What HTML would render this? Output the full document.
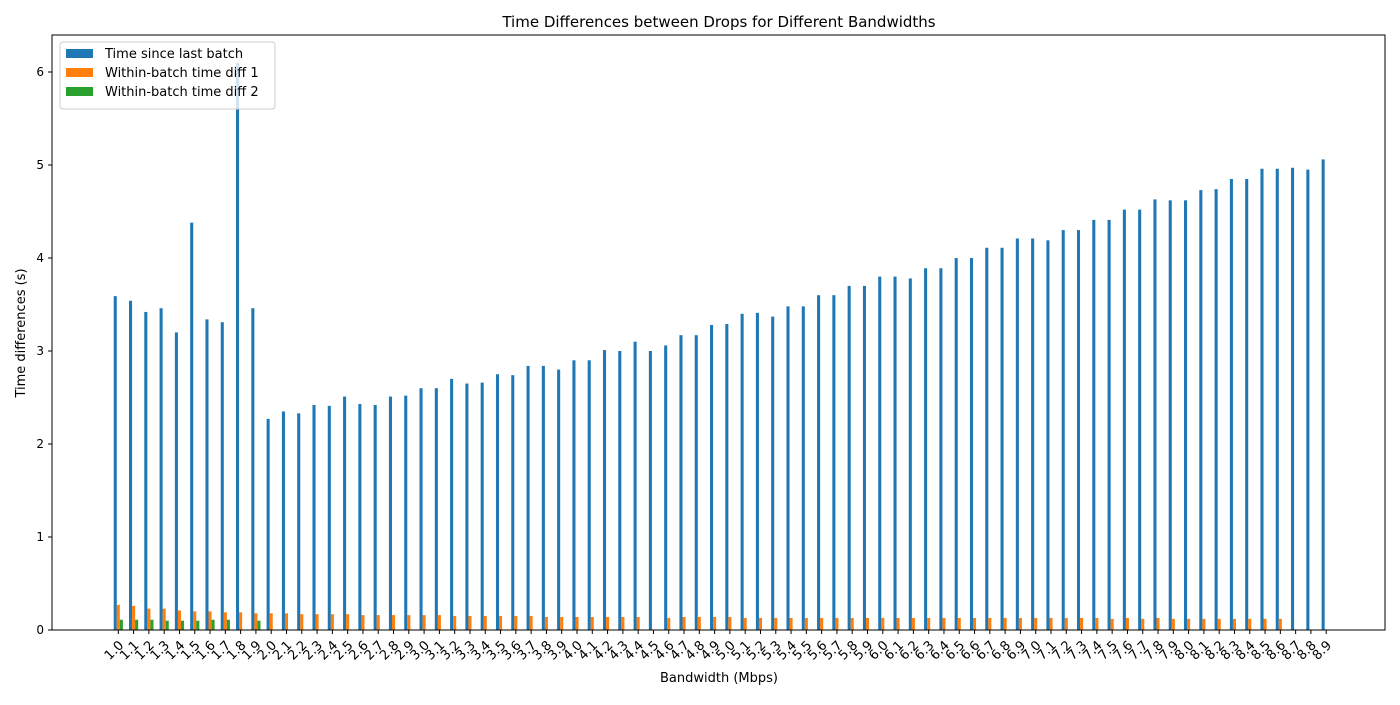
<!DOCTYPE html>
<html><head><meta charset="utf-8"><style>
body{margin:0;background:#fff;font-family:"Liberation Sans","DejaVu Sans",sans-serif}
svg text{font-family:"DejaVu Sans","Liberation Sans",sans-serif}
</style></head><body>
<svg id="chart" width="1400" height="700" xmlns="http://www.w3.org/2000/svg"></svg>
<script>
const categories=[];for(let i=10;i<=89;i++)categories.push((i/10).toFixed(1));
const sinceLast=[3.59,3.54,3.42,3.46,3.20,4.38,3.34,3.31,6.10,3.46,
2.27,2.35,2.33,2.42,2.41,2.51,2.43,2.42,2.51,2.52,
2.60,2.60,2.70,2.65,2.66,2.75,2.74,2.84,2.84,2.80,
2.90,2.90,3.01,3.00,3.10,3.00,3.06,3.17,3.17,3.28,
3.29,3.40,3.41,3.37,3.48,3.48,3.60,3.60,3.70,3.70,
3.80,3.80,3.78,3.89,3.89,4.00,4.00,4.11,4.11,4.21,
4.21,4.19,4.30,4.30,4.41,4.41,4.52,4.52,4.63,4.62,
4.62,4.73,4.74,4.85,4.85,4.96,4.96,4.97,4.95,5.06];
const diff1=[0.27,0.26,0.23,0.23,0.21,0.20,0.20,0.19,0.19,0.18,
0.18,0.18,0.17,0.17,0.17,0.17,0.16,0.16,0.16,0.16,
0.16,0.16,0.15,0.15,0.15,0.15,0.15,0.15,0.14,0.14,
0.14,0.14,0.14,0.14,0.14,0,0.13,0.14,0.14,0.14,
0.14,0.13,0.13,0.13,0.13,0.13,0.13,0.13,0.13,0.13,
0.13,0.13,0.13,0.13,0.13,0.13,0.13,0.13,0.13,0.13,
0.13,0.13,0.13,0.13,0.13,0.12,0.13,0.12,0.13,0.12,
0.12,0.12,0.12,0.12,0.12,0.12,0.12,0,0,0];
const diff2=[0.11,0.11,0.11,0.10,0.10,0.10,0.11,0.11,0,0.10];
const yTicks=[0,1,2,3,4,5,6];
const svg=document.getElementById('chart');const NS='http://www.w3.org/2000/svg';
const L=52,R=1385,T=35,B=630;
const x=i=>118.3+i*15.29;const y=v=>B-v*93;const bw=3.06;
function mk(t,a,p){const e=document.createElementNS(NS,t);for(const k in a)e.setAttribute(k,a[k]);(p||svg).appendChild(e);return e;}
const series=[[sinceLast,'#1f77b4',-1,'bar-time-since-last'],[diff1,'#ff7f0e',0,'bar-diff1'],[diff2,'#2ca02c',1,'bar-diff2']];
series.forEach(([arr,c,o,n])=>{arr.forEach((v,i)=>{if(!v)return;const r=mk('rect',{x:x(i)+o*bw-bw/2,y:y(v),width:bw,height:v*93,fill:c});

});});
mk('rect',{x:L,y:T,width:R-L,height:B-T,fill:'none',stroke:'#000','stroke-width':1,});
yTicks.forEach(v=>{mk('line',{x1:L-4,x2:L,y1:y(v),y2:y(v),stroke:'#000'});
const t=mk('text',{x:L-8,y:y(v)+4,'text-anchor':'end','font-size':12});t.textContent=v;

});
categories.forEach((c,i)=>{mk('line',{x1:x(i),x2:x(i),y1:B,y2:B+4,stroke:'#000'});
const ax=x(i)+6,ay=B+16;
const t=mk('text',{x:ax,y:ay,'text-anchor':'end','font-size':13,transform:`rotate(-45 ${ax} ${ay})`});t.textContent=c;

});
let t=mk('text',{x:719,y:27,'text-anchor':'middle','font-size':15,});t.textContent='Time Differences between Drops for Different Bandwidths';
t=mk('text',{x:719,y:682,'text-anchor':'middle','font-size':13,});t.textContent='Bandwidth (Mbps)';
t=mk('text',{x:25,y:333,'text-anchor':'middle','font-size':13,transform:'rotate(-90 25 333)',});t.textContent='Time differences (s)';
const lg=mk('g',{});
mk('rect',{x:60,y:42,width:215,height:67,rx:3,fill:'#fff','fill-opacity':0.8,stroke:'#ccc'},lg);
['Time since last batch','Within-batch time diff 1','Within-batch time diff 2'].forEach((s,i)=>{
mk('rect',{x:66,y:49+i*19,width:27,height:9,fill:series[i][1]},lg);
const tt=mk('text',{x:105,y:58+i*19,'font-size':13},lg);tt.textContent=s;

});
</script>
</body></html>
